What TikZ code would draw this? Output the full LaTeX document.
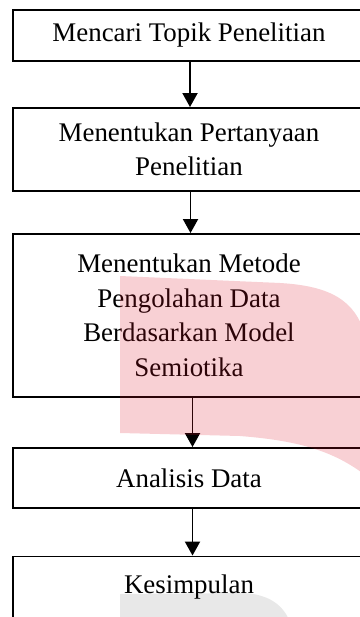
\documentclass[tikz,border=0pt]{standalone}
\usepackage{fontspec}
\setmainfont{Liberation Serif}
\usetikzlibrary{arrows.meta}
\definecolor{wmpink}{RGB}{220,20,40}
\definecolor{wmgrey}{RGB}{232,232,232}
\begin{document}
\begin{tikzpicture}[x=1pt,y=-1pt,
  box/.style={draw, line width=1.9pt, minimum width=352pt, inner sep=0pt, align=center, font=\fontsize{26.9}{34.5}\selectfont},
  flow/.style={-{Triangle[length=14pt,width=15pt]}, line width=1.9pt}]
\useasboundingbox (0,0) rectangle (359,617);
\fill[white] (0,0) rectangle (359,617);
\fill[wmgrey] (120,594) -- (240,593) .. controls (265,593) and (282,603) .. (289,620) -- (120,620) -- cycle;
\node[box, minimum height=51pt] (b1) at (189,35.5) {Mencari Topik Penelitian};
\node[box, minimum height=83pt] (b2) at (189,149.5) {Menentukan Pertanyaan\\Penelitian};
\node[box, minimum height=163pt] (b3) at (189,315.5) {Menentukan Metode\\Pengolahan Data\\Berdasarkan Model\\Semiotika};
\node[box, minimum height=60pt] (b4) at (189,478) {Analisis Data};
\node[box, minimum height=61pt] (b5) at (189,587) {Kesimpulan};
\draw[flow] ([xshift=1pt]b1.south) -- ([xshift=1pt]b2.north);
\draw[flow] ([xshift=1.5pt]b2.south) -- ([xshift=1.5pt]b3.north);
\draw[flow] ([xshift=3.5pt]b3.south) -- ([xshift=3.5pt]b4.north);
\draw[flow] ([xshift=3.5pt]b4.south) -- ([xshift=3.5pt]b5.north);
\fill[wmpink, opacity=0.2] (120,276) -- (280,283) .. controls (330,286) and (355,300) .. (365,335) -- (365,475) .. controls (330,448) and (290,440) .. (240,436) -- (120,433) -- cycle;
\end{tikzpicture}
\end{document}
